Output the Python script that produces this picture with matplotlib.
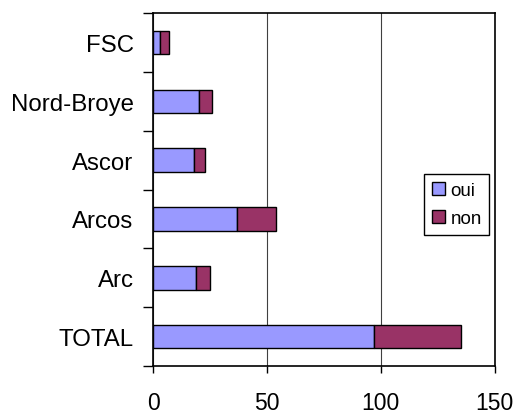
import numpy as np
import matplotlib
matplotlib.use("Agg")
import matplotlib.pyplot as plt
from matplotlib.ticker import FixedLocator

plt.rcParams["font.family"] = ["Liberation Sans", "DejaVu Sans"]

categories = ["FSC", "Nord-Broye", "Ascor", "Arcos", "Arc", "TOTAL"]
oui = [3, 20, 18, 37, 19, 97]
non = [4, 6, 5, 17, 6, 38]

C_OUI = "#9999FF"
C_NON = "#993366"

fig = plt.figure(figsize=(5.17, 4.14), dpi=100)
ax = fig.add_axes([0.296, 0.1135, 0.661, 0.8525])

y = np.arange(len(categories))
ax.barh(y, oui, height=0.4, color=C_OUI, edgecolor="black", linewidth=1, label="oui", zorder=3)
ax.barh(y, non, left=oui, height=0.4, color=C_NON, edgecolor="black", linewidth=1, label="non", zorder=3)

ax.set_xlim(0, 150)
ax.set_ylim(len(categories) - 0.5, -0.5)
ax.set_xticks([0, 50, 100, 150])
ax.set_yticks(y)
ax.set_yticklabels(categories)
ax.yaxis.set_minor_locator(FixedLocator(np.arange(-0.5, len(categories), 1.0)))
ax.tick_params(axis="y", which="major", length=0, pad=14, labelsize=17.3)
ax.tick_params(axis="y", which="minor", length=7, width=1, direction="out")
ax.tick_params(axis="x", length=5, width=1, pad=12.8, labelsize=16.5)

ax.xaxis.grid(True, color="#404040", linewidth=0.8, zorder=0)
for s in ax.spines.values():
    s.set_linewidth(1.2)
    s.set_color("black")

leg = ax.legend(loc="center", bbox_to_anchor=(0.889, 0.457), fontsize=13.5,
                fancybox=False, framealpha=1, edgecolor="black",
                handlelength=0.7, handleheight=0.7, handletextpad=0.3,
                borderpad=0.4, labelspacing=0.6, borderaxespad=0)
leg.get_frame().set_linewidth(1)

fig.savefig("out.png", dpi=100)
